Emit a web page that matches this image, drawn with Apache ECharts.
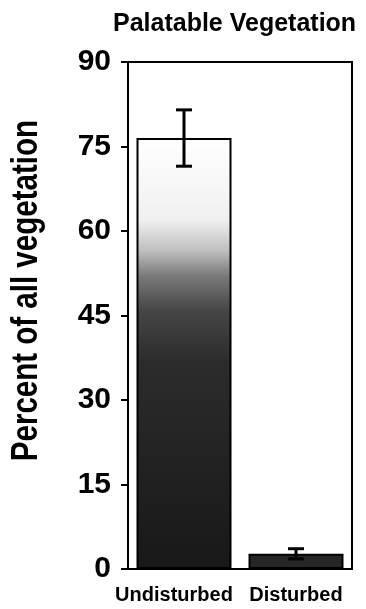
<!DOCTYPE html>
<html>
<head>
<meta charset="utf-8">
<script src="https://cdn.jsdelivr.net/npm/echarts@6/dist/echarts.min.js"></script>
<style>
html,body{margin:0;padding:0;background:#fff;}
#chart{width:366px;height:609px;}
</style>
</head>
<body>
<div id="chart"></div>
<script>
// ---- data ----
const categories = ['Undisturbed', 'Disturbed'];
const means = [76.5, 2.7];
const errors = [5.0, 0.9];
const yTicks = [0, 15, 30, 45, 60, 75, 90];

const titleText = 'Palatable Vegetation';
const yLabel = 'Percent of all vegetation';

const regular = '"Liberation Sans", Arial, sans-serif';

const chart = echarts.init(document.getElementById('chart'), null, {renderer: 'canvas'});

const gradient1 = new echarts.graphic.LinearGradient(0, 0, 0, 1, [
  {offset: 0, color: '#ffffff'},
  {offset: 0.19, color: '#f0f0f0'},
  {offset: 0.26, color: '#c0c0c0'},
  {offset: 0.32, color: '#7a7a7a'},
  {offset: 0.4, color: '#464646'},
  {offset: 0.52, color: '#2c2c2c'},
  {offset: 1, color: '#181818'}
]);

const barData = means.map((v, i) => ({
  value: v,
  itemStyle: {color: i === 0 ? gradient1 : '#262626'}
}));

const errData = means.map((v, i) => [i, v - errors[i], v + errors[i]]);

chart.setOption({
  animation: false,
  backgroundColor: '#fff',
  title: {
    text: titleText,
    left: 108,
    top: 7,
    textStyle: {fontFamily: regular, fontWeight: 'bold', fontSize: 25, color: '#000'}
  },
  grid: {
    left: 128, right: 14, top: 62, bottom: 40,
    show: true, borderColor: '#000', borderWidth: 2, backgroundColor: 'transparent'
  },
  xAxis: {
    type: 'category',
    data: categories,
    axisLine: {show: true, lineStyle: {color: '#000', width: 2}},
    axisTick: {show: false},
    axisLabel: {
      interval: 0,
      margin: 16,
      color: '#000',
      fontFamily: regular,
      fontWeight: 'bold',
      fontSize: 20,
      formatter: (v, i) => i === 0 ? '{a|' + v + '}' : '{b|' + v + '}',
      rich: {
        a: {fontFamily: regular, fontWeight: 'bold', fontSize: 20, color: '#000', padding: [0, 20, 0, 0]},
        b: {fontFamily: regular, fontWeight: 'bold', fontSize: 20, color: '#000', padding: [0, 0, 0, 0]}
      }
    }
  },
  yAxis: {
    type: 'value',
    min: yTicks[0],
    max: yTicks[yTicks.length - 1],
    interval: 15,
    splitLine: {show: false},
    axisLine: {show: true, lineStyle: {color: '#000', width: 2}},
    axisTick: {show: true, length: 7, lineStyle: {color: '#000', width: 2}},
    axisLabel: {
      margin: 17,
      color: '#000',
      fontFamily: regular,
      fontWeight: 'bold',
      fontSize: 30
    }
  },
  graphic: [{
    type: 'text',
    left: 9,
    top: 120,
    rotation: Math.PI / 2,
    scaleX: 0.82,
    style: {
      text: yLabel,
      fontFamily: regular,
      fontWeight: 'bold',
      fontSize: 36,
      fill: '#000'
    }
  }],
  series: [
    {
      type: 'bar',
      data: barData,
      barWidth: 95,
      itemStyle: {borderColor: '#000', borderWidth: 2}
    },
    {
      type: 'custom',
      data: errData,
      z: 10,
      renderItem: function (params, api) {
        const x = api.value(0);
        const lo = api.coord([x, api.value(1)]);
        const hi = api.coord([x, api.value(2)]);
        const half = 8;
        const style = {stroke: '#000', lineWidth: 3};
        return {
          type: 'group',
          children: [
            {type: 'line', shape: {x1: lo[0], y1: lo[1], x2: hi[0], y2: hi[1]}, style: style},
            {type: 'line', shape: {x1: hi[0] - half, y1: hi[1], x2: hi[0] + half, y2: hi[1]}, style: style},
            {type: 'line', shape: {x1: lo[0] - half, y1: lo[1], x2: lo[0] + half, y2: lo[1]}, style: style}
          ]
        };
      }
    }
  ]
});
</script>
</body>
</html>
